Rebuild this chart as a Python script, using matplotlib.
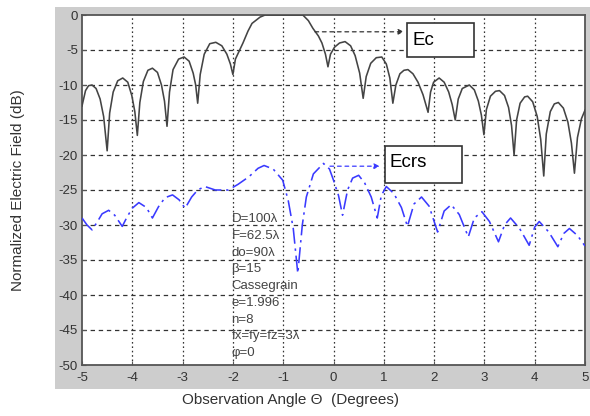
import matplotlib
matplotlib.use("Agg")
import matplotlib.pyplot as plt
from matplotlib.patches import Rectangle

plt.rcParams['font.family'] = ['Liberation Sans', 'DejaVu Sans']

# Co-polar pattern Ec (angle in degrees, level in dB)
ec_angle = [-5.0, -4.93, -4.87, -4.8, -4.72, -4.64, -4.57, -4.5,
            -4.45, -4.38, -4.29, -4.19, -4.09, -4.01, -3.95, -3.9,
            -3.85, -3.78, -3.69, -3.6, -3.5, -3.42, -3.36, -3.31,
            -3.26, -3.19, -3.08, -2.97, -2.87, -2.79, -2.74, -2.7,
            -2.65, -2.57, -2.46, -2.34, -2.22, -2.12, -2.05, -2.0,
            -1.95, -1.8, -1.7, -1.62, -1.46, -1.36, -0.61, -0.5, -0.41, -0.3, -0.23, -0.16, -0.11,
            -0.06, 0.02, 0.12, 0.23, 0.34, 0.43, 0.52, 0.59,
            0.65, 0.74, 0.85, 0.96, 1.05, 1.12, 1.18,
            1.24, 1.32, 1.4, 1.48, 1.58, 1.68, 1.78, 1.88,
            1.93, 1.99, 2.1, 2.2, 2.29, 2.36, 2.42,
            2.48, 2.56, 2.7, 2.8, 2.88, 2.94, 2.99,
            3.04, 3.12, 3.22, 3.3, 3.4, 3.48, 3.54, 3.59,
            3.64, 3.71, 3.8, 3.86, 3.96, 4.05, 4.12, 4.18,
            4.23, 4.31, 4.39, 4.47, 4.57, 4.66, 4.73, 4.79,
            4.85, 4.93, 5.0]
ec_db = [-13.0, -10.8, -10.1, -10.0, -10.5, -12.0, -14.5, -19.4,
         -14.0, -11.0, -9.4, -9.0, -9.6, -11.5, -13.8, -17.2,
         -12.5, -9.5, -7.9, -7.6, -8.2, -10.0, -12.3, -15.9,
         -11.0, -7.8, -6.3, -6.0, -6.6, -8.3, -10.0, -12.6,
         -8.5, -5.6, -4.1, -3.9, -4.4, -5.6, -7.0, -8.5,
         -6.3, -4.0, -2.3, -1.2, -0.3, 0.0, 0.0, -0.8, -1.9, -3.0, -4.0, -5.6, -7.4,
         -5.6, -4.6, -4.0, -3.8, -4.4, -5.8, -8.3, -11.9,
         -8.8, -6.9, -6.1, -6.0, -7.0, -9.0, -12.6,
         -10.0, -8.4, -7.9, -7.8, -8.4, -9.6, -11.4, -13.9,
         -11.0, -9.6, -9.0, -9.6, -11.0, -12.8, -15.0,
         -12.0, -10.5, -10.0, -10.7, -12.3, -14.3, -17.1,
         -13.5, -11.6, -10.9, -10.8, -11.5, -13.2, -15.8, -20.0,
         -15.0, -12.6, -11.7, -11.6, -12.4, -14.5, -17.8, -23.0,
         -17.0, -13.8, -12.7, -12.5, -13.3, -15.3, -18.3, -22.6,
         -17.5, -14.8, -13.6]

# Cross-polar pattern Ecrs
ecrs_angle = [-5.0, -4.9, -4.8, -4.7, -4.6, -4.47, -4.35, -4.2, -4.1, -4.0, -3.87,
              -3.72, -3.6, -3.48, -3.35, -3.2, -3.07, -2.95, -2.82, -2.7, -2.56,
              -2.35, -2.09, -1.9, -1.68, -1.5, -1.38, -1.2, -1.01, -0.9, -0.8,
              -0.71, -0.62, -0.54, -0.4, -0.2, -0.08, 0.0, 0.1, 0.18, 0.28, 0.38,
              0.5, 0.62, 0.75, 0.87, 0.95, 1.05, 1.2, 1.35, 1.47, 1.6, 1.75, 1.9,
              2.07, 2.2, 2.34, 2.5, 2.68, 2.8, 2.95, 3.1, 3.28, 3.4, 3.52, 3.7,
              3.89, 4.0, 4.09, 4.28, 4.46, 4.58, 4.69, 4.85, 5.0]
ecrs_db = [-29.0, -30.0, -30.7, -29.6, -28.4, -27.9, -28.6, -30.2, -28.8, -27.6, -26.8,
           -27.5, -29.0, -27.4, -26.1, -25.7, -26.4, -27.6, -26.0, -25.0, -24.5,
           -25.0, -25.0, -24.2, -23.1, -21.9, -21.5, -22.0, -23.6, -26.5, -30.5,
           -36.9, -30.0, -26.0, -22.7, -21.2, -22.0, -23.6, -25.8, -28.6, -25.0, -23.3,
           -22.9, -24.0, -26.0, -29.0, -25.8, -24.5, -25.5, -27.5, -30.2, -27.0, -26.0, -27.3,
           -31.0, -28.0, -27.1, -28.5, -31.7, -29.0, -28.1, -29.5, -32.4, -30.0, -29.0, -30.5,
           -32.9, -30.3, -29.5, -31.0, -33.1, -31.2, -30.5, -31.5, -33.0]

x_ticks = [-5, -4, -3, -2, -1, 0, 1, 2, 3, 4, 5]
y_ticks = [0, -5, -10, -15, -20, -25, -30, -35, -40, -45, -50]

params_text = ["D=100λ", "F=62.5λ", "do=90λ", "β=15", "Cassegrain",
               "e=1.996", "n=8", "fx=fy=fz=3λ", "φ=0"]

fig = plt.figure(figsize=(5.9, 4.16), dpi=100)
fig.patch.set_facecolor('white')

# grey panel behind the axes (MATLAB-style figure background)
bg = fig.add_axes([55 / 590, 27 / 416, 535 / 590, 382 / 416])
bg.set_facecolor('#cdcdcd')
bg.set_xticks([])
bg.set_yticks([])
for s in bg.spines.values():
    s.set_visible(False)
bg.set_zorder(0)

ax = fig.add_axes([82 / 590, 51 / 416, 503 / 590, 350 / 416])
ax.set_zorder(2)
ax.set_facecolor('white')
ax.set_xlim(-5, 5)
ax.set_ylim(-50, 0)
ax.set_xticks(x_ticks)
ax.set_yticks(y_ticks)
ax.set_xticklabels([str(v) for v in x_ticks])
ax.set_yticklabels([str(v) for v in y_ticks])
ax.tick_params(direction='in', length=3, width=0.8, colors='#555', labelcolor='#333',
               labelsize=9.5)
ax.tick_params(axis='x', pad=5)
ax.tick_params(axis='y', pad=3)
for s in ax.spines.values():
    s.set_color('#555')
    s.set_linewidth(1.3)

for y in y_ticks[1:-1]:
    ax.axhline(y, color='#333', lw=0.9, ls=(0, (3.5, 3)), zorder=1)
for x in x_ticks[1:-1]:
    ax.axvline(x, color='#333', lw=0.9, ls=(0, (1.3, 2.2)), zorder=1)

ax.plot(ec_angle, ec_db, color='#444444', lw=1.15, zorder=3)
ax.plot(ecrs_angle, ecrs_db, color='#3a3aff', lw=1.15, ls=(0, (10, 3, 1.5, 3)), zorder=3)

# Ec label box and arrow
ax.add_patch(Rectangle((1.46, -6.0), 1.33, 4.9, facecolor='white', edgecolor='#333',
                       lw=1.2, zorder=5))
ax.text(1.58, -3.6, "Ec", fontsize=13.5, va='center', ha='left', color='black', zorder=6)
ax.annotate("", xy=(1.4, -2.4), xytext=(-0.37, -2.4),
            arrowprops=dict(arrowstyle='-|>', color='#333', lw=0.9, ls=(0, (3, 3)),
                            mutation_scale=8, shrinkA=0, shrinkB=0), zorder=4)

# Ecrs label box and arrow
ax.add_patch(Rectangle((1.02, -24.0), 1.53, 5.3, facecolor='white', edgecolor='#333',
                       lw=1.2, zorder=5))
ax.text(1.12, -21.1, "Ecrs", fontsize=13.5, va='center', ha='left', color='black', zorder=6)
ax.annotate("", xy=(0.92, -21.6), xytext=(-0.07, -21.6),
            arrowprops=dict(arrowstyle='-|>', color='#3a3aff', lw=0.9, ls=(0, (3, 3)),
                            mutation_scale=8, shrinkA=0, shrinkB=0), zorder=4)

ax.text(-2.03, -28.3, "\n".join(params_text), fontsize=9.5, va='top', ha='left',
        color='#444', linespacing=1.53, zorder=4)

fig.text(290 / 590, 1 - 400 / 416, "Observation Angle Θ  (Degrees)", fontsize=11,
         ha='center', va='center', color='#333')
fig.text(18 / 590, 1 - 190 / 416, "Normalized Electric Field (dB)", fontsize=11,
         ha='center', va='center', rotation=90, color='#333')

fig.savefig("out.png", dpi=100)
